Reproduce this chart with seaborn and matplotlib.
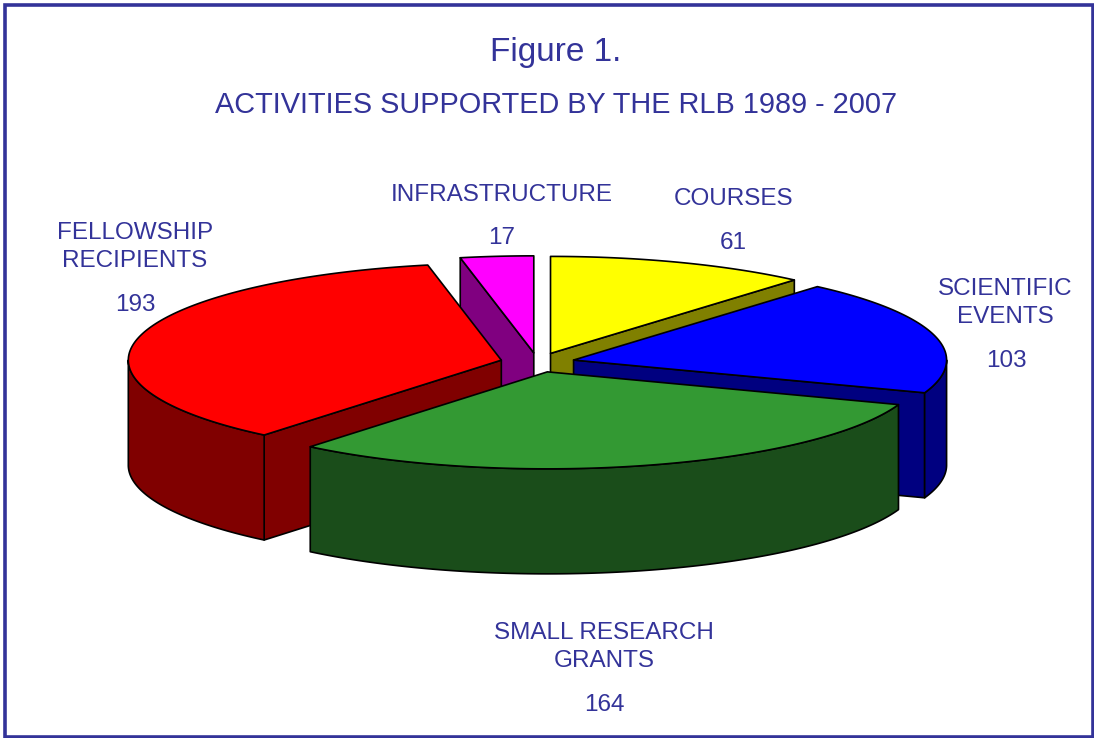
import numpy as np
import matplotlib
matplotlib.use('Agg')
import matplotlib.pyplot as plt
import seaborn as sns

labels = ['COURSES', 'SCIENTIFIC\nEVENTS', 'SMALL RESEARCH\nGRANTS', 'FELLOWSHIP\nRECIPIENTS', 'INFRASTRUCTURE']
values = [61, 103, 164, 193, 17]
top_colors = ['#ffff00', '#0000ff', '#339933', '#ff0000', '#ff00ff']
side_colors = ['#808000', '#000080', '#1a4d1a', '#800000', '#800080']
label_pos = [(734, 199), (1005, 303), (604, 647), (135, 247), (501.5, 195)]
value_pos = [(733, 243), (1006, 361), (604, 705), (135, 305), (502, 238)]
draw_order = [0, 4, 1, 3, 2]

sns.set_theme(style='white')
plt.rcParams['font.family'] = ['Liberation Sans', 'DejaVu Sans']
text_color = '#333399'

# pie geometry in pixels
cx, cy = 537.5, 362.5
rx, ry = 373, 97
depth = 105
explode = 0.1

fig, ax = plt.subplots(figsize=(10.94, 7.38), dpi=100)
ax.set_position([0, 0, 1, 1])
ax.set_xlim(0, 1094)
ax.set_ylim(738, 0)
ax.axis('off')

edges = np.cumsum([0] + values) / sum(values) * 2 * np.pi


def arc(t1, t2, ox, oy, dy=0):
    t = np.linspace(t1, t2, 200)
    return ox + rx * np.sin(t), oy - ry * np.cos(t) + dy


def draw_slice(i):
    t1, t2 = edges[i], edges[i + 1]
    mid = (t1 + t2) / 2
    ox = cx + explode * rx * np.sin(mid)
    oy = cy - explode * ry * np.cos(mid)
    kw = dict(edgecolor='black', linewidth=1.2, joinstyle='round')
    # radial side faces that look towards the viewer
    for t, visible in ((t1, np.sin(t1) < -1e-9), (t2, np.sin(t2) > 1e-9)):
        if visible:
            ex, ey = ox + rx * np.sin(t), oy - ry * np.cos(t)
            ax.fill([ox, ex, ex, ox], [oy, ey, ey + depth, oy + depth],
                    facecolor=side_colors[i], **kw)
    # outer rim, only the front half of the ellipse
    a, b = max(t1, np.pi / 2), min(t2, 3 * np.pi / 2)
    if a < b:
        x, y = arc(a, b, ox, oy)
        xb, yb = arc(b, a, ox, oy, depth)
        ax.fill(np.r_[x, xb], np.r_[y, yb], facecolor=side_colors[i], **kw)
    # top
    x, y = arc(t1, t2, ox, oy)
    ax.fill(np.r_[ox, x], np.r_[oy, y], facecolor=top_colors[i], **kw)


for i in draw_order:
    draw_slice(i)

for i in range(len(values)):
    ax.text(*label_pos[i], labels[i], color=text_color, fontsize=17.5, ha='center',
            va='center', linespacing=1.4)
    ax.text(*value_pos[i], str(values[i]), color=text_color, fontsize=17.5, ha='center', va='center')

ax.text(556, 52, 'Figure 1.', color=text_color, fontsize=24, ha='center', va='center')
ax.text(556, 105, 'ACTIVITIES SUPPORTED BY THE RLB 1989 - 2007', color=text_color,
        fontsize=20.8, ha='center', va='center')

ax.add_patch(plt.Rectangle((5, 5), 1087.5, 731.5, fill=False, edgecolor='#333399', linewidth=2.6))

fig.savefig('out.png', dpi=100)
